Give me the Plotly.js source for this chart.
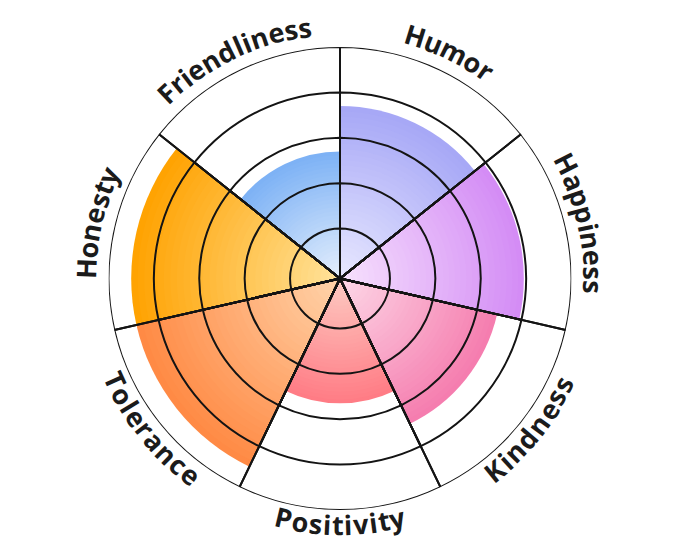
<!DOCTYPE html>
<html>
<head>
<meta charset="utf-8">
<script src="https://cdn.plot.ly/plotly-3.0.1.min.js"></script>
<style>html,body{margin:0;padding:0;background:#fff;}#chart{width:680px;height:557px;}</style>
</head>
<body>
<div id="chart"></div>
<script>
// ---- data ----
const categories = ['Humor', 'Happiness', 'Kindness', 'Positivity', 'Tolerance', 'Honesty', 'Friendliness'];
const values = [3.7, 3.95, 3.45, 2.65, 4.5, 4.5, 2.7];
const ringTicks = [1, 2, 3, 4, 5];

// ---- styles ----
const outerColors = ['#a6a7f6', '#d38bf5', '#f57cae', '#ff7b84', '#ff8943', '#ffa200', '#7cb1f5'];
const innerColors = ['#e8e8ff', '#f7e2fd', '#fdd8e7', '#fdcbc3', '#ffd4ab', '#ffe39c', '#e5effc'];
const lineColor = '#141414';
const rMin = -0.1, rMax = 5;
const N = 32;

const W = 680, H = 557;
const M = {l: 108, r: 108, t: 47, b: 47};
const pw = W - M.l - M.r, ph = H - M.t - M.b;
const cx = M.l + pw / 2, cy = M.t + ph / 2;

const sector = 360 / categories.length;
const thetas = categories.map((c, i) => (i + 0.5) * sector);
const widths = categories.map(() => sector);

function hex2rgb(h) { return [1, 3, 5].map(i => parseInt(h.slice(i, i + 2), 16)); }
function mix(a, b, t) {
  const A = hex2rgb(a), B = hex2rgb(b);
  return 'rgb(' + A.map((v, i) => Math.round(v + (B[i] - v) * t)).join(',') + ')';
}

const traces = [];
for (let k = N; k >= 1; k--) {
  const t = k / N;
  const tc = (k - 0.5) / N;
  traces.push({
    type: 'barpolar',
    r: values.map(v => (v - rMin) * t),
    base: rMin,
    theta: thetas,
    width: widths,
    marker: {color: categories.map((c, i) => mix(innerColors[i], outerColors[i], tc)), line: {width: 0}},
    hoverinfo: 'skip',
    showlegend: false
  });
}
ringTicks.forEach(g => {
  traces.push({
    type: 'barpolar',
    r: categories.map(() => g - rMin),
    base: rMin,
    theta: thetas,
    width: widths,
    marker: {color: 'rgba(0,0,0,0)', line: {color: lineColor, width: 2}},
    hoverinfo: 'skip',
    showlegend: false
  });
});

// ---- curved labels, one annotation per letter ----
const fontSize = 27;
const canvas = document.createElement('canvas');
const ctx = canvas.getContext('2d');
ctx.font = "700 " + fontSize + "px 'Open Sans'";
const spacing = 0.6;
const annotations = [];
const radius = Math.min(pw, ph) / 2;
categories.forEach((label, i) => {
  const phiC = thetas[i];
  const top = phiC <= 90 || phiC >= 270;
  const R = top ? radius + 22.5 : radius + 14.5;
  const chars = Array.from(label);
  const ws = chars.map(ch => ctx.measureText(ch).width);
  const total = ws.reduce((a, b) => a + b, 0) + spacing * (chars.length - 1);
  const spanDeg = total / R * 180 / Math.PI;
  let acc = 0;
  chars.forEach((ch, j) => {
    const off = (acc + ws[j] / 2) / R * 180 / Math.PI;
    acc += ws[j] + spacing;
    const phi = top ? phiC - spanDeg / 2 + off : phiC + spanDeg / 2 - off;
    const rad = phi * Math.PI / 180;
    const px = cx + R * Math.sin(rad);
    const py = cy - R * Math.cos(rad);
    let ang = top ? phi : phi - 180;
    while (ang > 180) ang -= 360;
    while (ang < -180) ang += 360;
    annotations.push({
      xref: 'paper', yref: 'paper',
      x: (px - M.l) / pw, y: (H - M.b - py) / ph,
      text: '<b>' + ch + '</b>',
      showarrow: false,
      textangle: ang,
      xanchor: 'center', yanchor: 'middle',
      borderpad: 0,
      font: {family: 'Open Sans', size: fontSize, color: '#1b1b1b'}
    });
  });
});

const layout = {
  width: W, height: H,
  margin: M,
  paper_bgcolor: '#ffffff',
  showlegend: false,
  polar: {
    domain: {x: [0, 1], y: [0, 1]},
    bgcolor: '#ffffff',
    barmode: 'overlay',
    radialaxis: {visible: false, range: [rMin, rMax]},
    angularaxis: {visible: false, direction: 'clockwise', rotation: 90, thetaunit: 'degrees'}
  },
  annotations: annotations
};

Plotly.newPlot('chart', traces, layout, {displayModeBar: false, staticPlot: true});
</script>
</body>
</html>
